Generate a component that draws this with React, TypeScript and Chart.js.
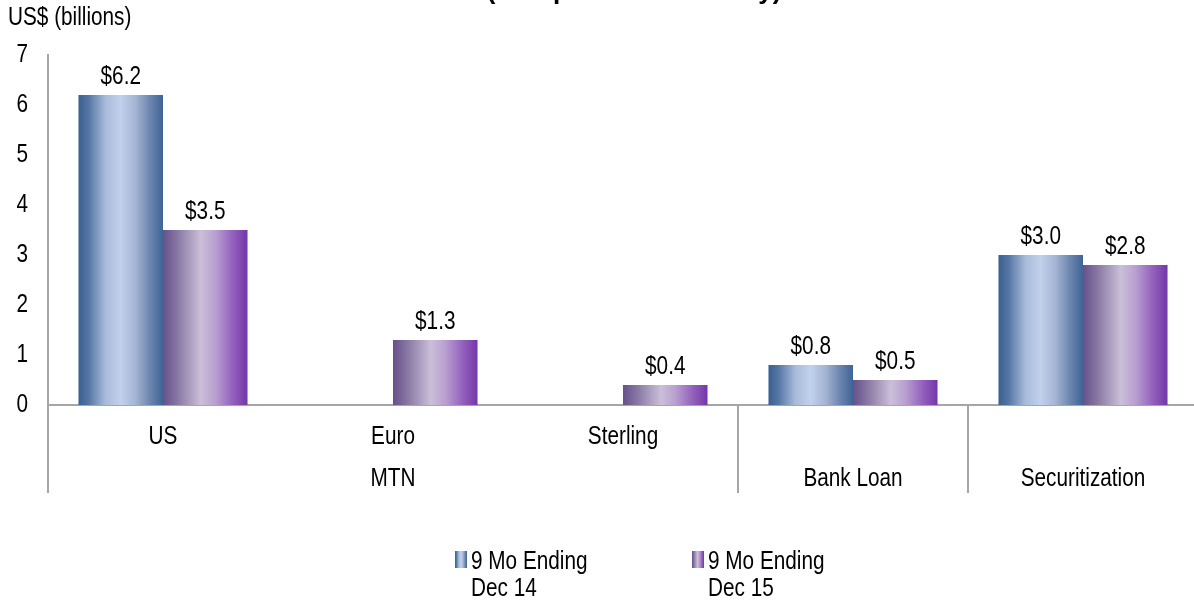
import React, { useEffect, useRef } from "react";
import { Chart, registerables } from "chart.js";

Chart.register(...registerables);

// ---- data ----
const categories = ["US", "Euro", "Sterling", "Bank Loan", "Securitization"];
const tickRow1 = ["US", "Euro", "Sterling", "", ""];
const tickRow2 = ["", "MTN", "", "Bank Loan", "Securitization"];
const groupBreaks = [2.5, 3.5]; // boundaries between MTN | Bank Loan | Securitization
const seriesLabels = [
  ["9 Mo Ending", "Dec 14"],
  ["9 Mo Ending", "Dec 15"],
];
const dec14 = [6.2, null, null, 0.8, 3.0];
const dec15 = [3.5, 1.3, 0.4, 0.5, 2.8];
const yMin = 0;
const yMax = 7;
const yStep = 1;
const titleText = "(Comparison Summary)";
const yAxisTitle = "US$ (billions)";

// ---- styles ----
const SANS = "'Liberation Sans', Arial, sans-serif";
const NARROW_SCALE = 0.83; // emulates Arial Narrow
const FONT = `25px ${SANS}`;
const AXIS_COLOR = "#a6a6a6";

const blueStops: [number, string][] = [
  [0, "#3a5f90"],
  [0.12, "#5676a5"],
  [0.32, "#a9bbda"],
  [0.5, "#c2d1ec"],
  [0.68, "#a3b3d2"],
  [0.85, "#6b84ae"],
  [1, "#3e6495"],
];
const purpleStops: [number, string][] = [
  [0, "#66508a"],
  [0.18, "#8a7aa4"],
  [0.45, "#cbbfd9"],
  [0.62, "#b99fd0"],
  [0.82, "#9463bd"],
  [1, "#7436a8"],
];
const stopSets = [blueStops, purpleStops];

function makeGrad(ctx: CanvasRenderingContext2D, x0: number, x1: number, stops: [number, string][]) {
  const g = ctx.createLinearGradient(x0, 0, x1, 0);
  stops.forEach(([o, c]) => g.addColorStop(o, c));
  return g;
}

function narrowText(
  ctx: CanvasRenderingContext2D,
  text: string,
  x: number,
  y: number,
  align: CanvasTextAlign,
  baseline: CanvasTextBaseline
) {
  ctx.save();
  ctx.translate(x, y);
  ctx.scale(NARROW_SCALE, 1);
  ctx.font = FONT;
  ctx.fillStyle = "#000";
  ctx.textAlign = align;
  ctx.textBaseline = baseline;
  ctx.fillText(text, 0, 0);
  ctx.restore();
}

const gradientPlugin = {
  id: "barGradient",
  beforeDatasetsDraw(chart: any) {
    const ctx = chart.ctx;
    chart.data.datasets.forEach((_: any, di: number) => {
      const meta = chart.getDatasetMeta(di);
      meta.data.forEach((el: any) => {
        const { x, width } = el.getProps(["x", "width"], true);
        if (!isFinite(x) || !isFinite(width)) return;
        const g = makeGrad(ctx, x - width / 2, x + width / 2, stopSets[di]);
        el.options = Object.assign({}, el.options, { backgroundColor: g });
      });
    });
  },
};

const decorPlugin = {
  id: "decor",
  afterDatasetsDraw(chart: any) {
    const ctx = chart.ctx as CanvasRenderingContext2D;
    chart.data.datasets.forEach((ds: any, di: number) => {
      const meta = chart.getDatasetMeta(di);
      meta.data.forEach((el: any, i: number) => {
        const v = ds.data[i];
        if (v === null || v === undefined) return;
        narrowText(ctx, `$${v.toFixed(1)}`, el.x, el.y - 11, "center", "alphabetic");
      });
    });
  },
  afterDraw(chart: any) {
    const ctx = chart.ctx as CanvasRenderingContext2D;
    const { chartArea } = chart;
    const xs = chart.scales.x;
    const ys = chart.scales.y;
    const depth = 88;
    ctx.save();
    // axis extension and group separators
    ctx.strokeStyle = AXIS_COLOR;
    ctx.lineWidth = 2;
    ctx.beginPath();
    ctx.moveTo(chartArea.left, chartArea.bottom);
    ctx.lineTo(chartArea.left, chartArea.bottom + depth);
    groupBreaks.forEach((b) => {
      const lo = Math.floor(b);
      const px = (xs.getPixelForValue(lo) + xs.getPixelForValue(lo + 1)) / 2;
      ctx.moveTo(px, chartArea.bottom);
      ctx.lineTo(px, chartArea.bottom + depth);
    });
    ctx.stroke();
    ctx.restore();

    // y tick labels (from the library's scale)
    ys.ticks.forEach((t: any, i: number) => {
      narrowText(ctx, String(t.label ?? t.value), chartArea.left - 20, ys.getPixelForTick(i), "right", "middle");
    });

    // x tick labels: two rows (category / group)
    categories.forEach((_c, i) => {
      const px = xs.getPixelForValue(i);
      if (tickRow1[i]) narrowText(ctx, tickRow1[i], px, chartArea.bottom + 32, "center", "middle");
      if (tickRow2[i]) narrowText(ctx, tickRow2[i], px, chartArea.bottom + 74, "center", "middle");
    });

    // y-axis title
    narrowText(ctx, yAxisTitle, 8, 18, "left", "middle");

    // title (second line, mostly above the page)
    ctx.save();
    ctx.fillStyle = "#000";
    ctx.font = `bold 26px ${SANS}`;
    ctx.textAlign = "center";
    ctx.textBaseline = "alphabetic";
    ctx.fillText(titleText, 634, -1);
    ctx.restore();

    // legend
    const itemStarts = [455, 692];
    seriesLabels.forEach((lines, i) => {
      const sx = itemStarts[i];
      ctx.save();
      ctx.fillStyle = makeGrad(ctx, sx, sx + 12, stopSets[i]);
      ctx.fillRect(sx, 551, 12, 17);
      ctx.restore();
      lines.forEach((t, li) => narrowText(ctx, t, sx + 16, 562 + li * 27, "left", "middle"));
    });
  },
};

export default function App() {
  const ref = useRef<HTMLCanvasElement | null>(null);
  useEffect(() => {
    if (!ref.current) return;
    const chart = new Chart(ref.current, {
      type: "bar",
      data: {
        labels: categories,
        datasets: [
          {
            label: seriesLabels[0].join(" "),
            data: dec14 as any,
            backgroundColor: "#9fb3d9",
            categoryPercentage: 0.735,
            barPercentage: 1,
          },
          {
            label: seriesLabels[1].join(" "),
            data: dec15,
            backgroundColor: "#a98bc6",
            categoryPercentage: 0.735,
            barPercentage: 1,
          },
        ],
      },
      options: {
        animation: false,
        responsive: false,
        devicePixelRatio: 1,
        layout: { padding: { top: 55, right: 0, bottom: 107, left: 0 } },
        plugins: {
          legend: { display: false },
          tooltip: { enabled: false },
          title: { display: false },
        },
        scales: {
          x: {
            grid: { display: false, drawTicks: false },
            border: { display: true, color: AXIS_COLOR, width: 2 },
            ticks: { display: false, autoSkip: false, maxRotation: 0 },
            afterFit: (s: any) => {
              s.height = 88;
            },
          },
          y: {
            min: yMin,
            max: yMax,
            grid: { display: false, drawTicks: false },
            border: { display: true, color: AXIS_COLOR, width: 2 },
            ticks: { display: false, stepSize: yStep },
            afterFit: (s: any) => {
              s.width = 48;
            },
          },
        },
      },
      plugins: [gradientPlugin, decorPlugin],
    });
    return () => chart.destroy();
  }, []);
  return (
    <div
      style={{
        position: "fixed",
        left: 0,
        top: 0,
        width: 1194,
        height: 600,
        overflow: "hidden",
        background: "#fff",
      }}
    >
      <canvas ref={ref} width={1198} height={600} style={{ display: "block" }} />
    </div>
  );
}
